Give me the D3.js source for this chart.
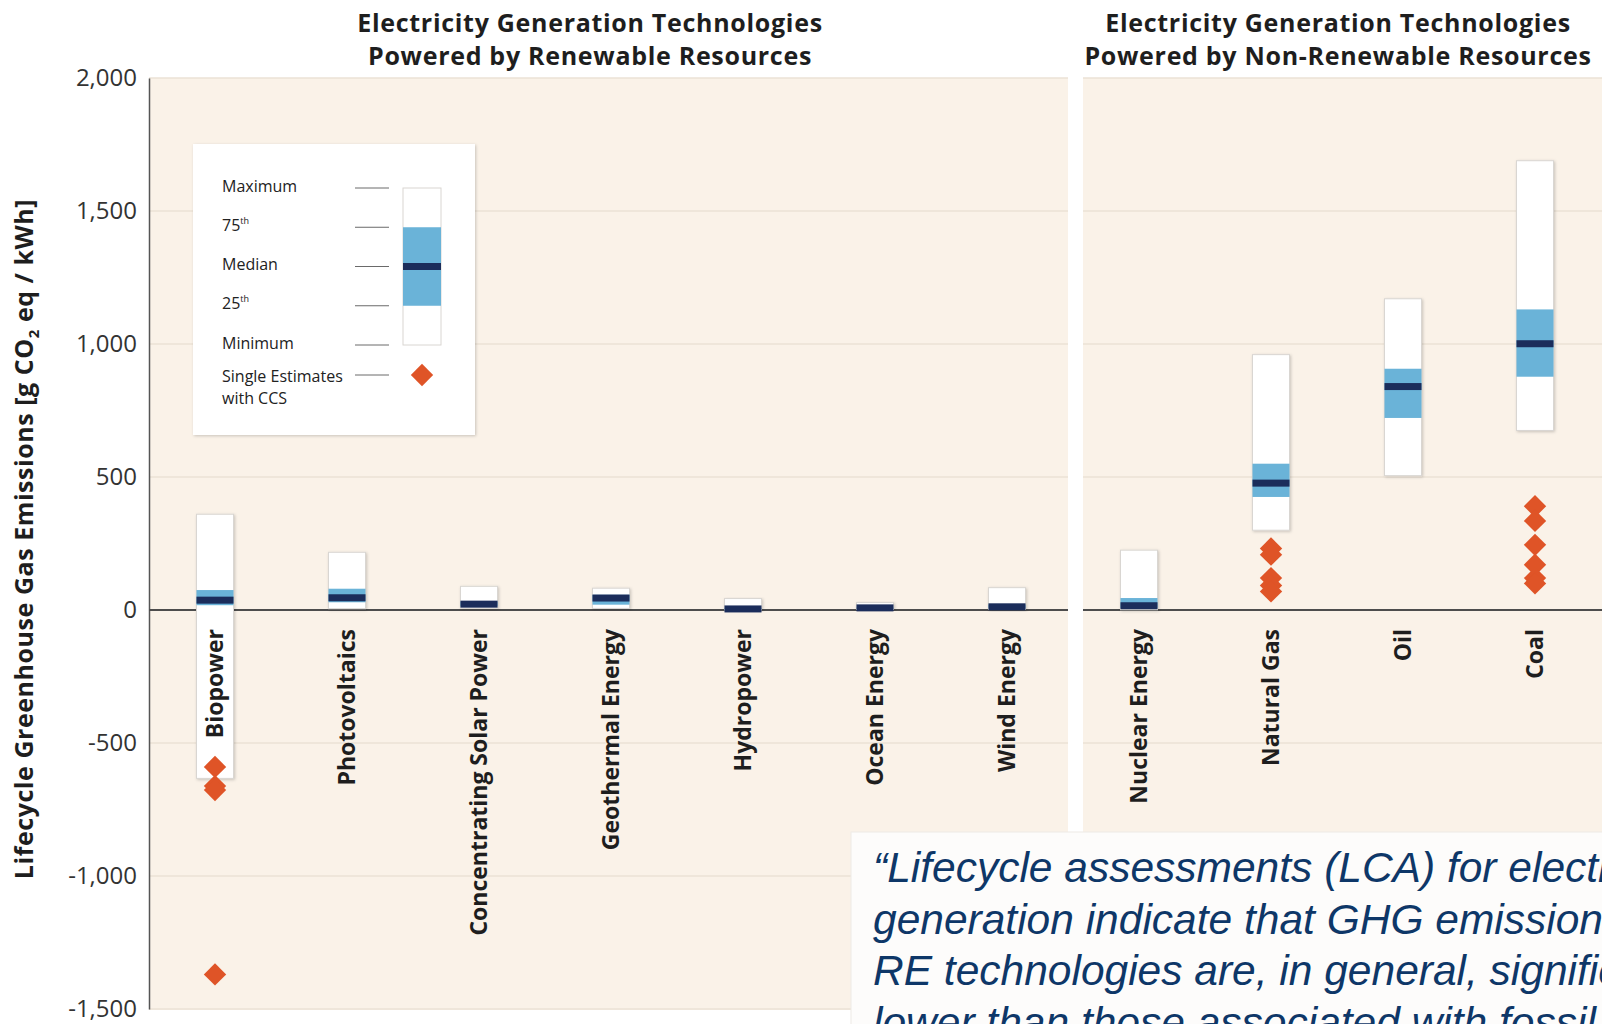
<!DOCTYPE html>
<html>
<head>
<meta charset="utf-8">
<script src="https://cdn.jsdelivr.net/npm/d3@7"></script>
<style>
  html, body { margin: 0; padding: 0; background: #ffffff; overflow: hidden; }
  svg { display: block; }
</style>
</head>
<body>
<svg id="chart" width="1602" height="1024"></svg>
<script>
// ---- Data: lifecycle GHG emissions, g CO2 eq / kWh ----
const categories = [
  "Biopower", "Photovoltaics", "Concentrating Solar Power", "Geothermal Energy",
  "Hydropower", "Ocean Energy", "Wind Energy",
  "Nuclear Energy", "Natural Gas", "Oil", "Coal"
];
const renewableCount = 7;            // first 7 categories are renewable
const minimum      = [-633,   5,  7,  6,  0,  2,  2,   1, 300,  505,  675];
const percentile25 = [  18,  29, 14, 20,  3,  6,  8,   8, 425,  722,  877];
const median       = [  37,  46, 22, 45,  4,  8, 12,  16, 477,  840, 1001];
const percentile75 = [  75,  80, 32, 57,  7,  9, 20,  45, 550,  907, 1130];
const maximum      = [ 360, 217, 89, 82, 43, 28, 84, 225, 960, 1170, 1689];

// Single estimates with CCS
const ccsCategory = ["Biopower", "Biopower", "Biopower", "Biopower",
                     "Natural Gas", "Natural Gas", "Natural Gas", "Natural Gas", "Natural Gas",
                     "Coal", "Coal", "Coal", "Coal", "Coal", "Coal"];
const ccsValue    = [-590, -662, -677, -1370,
                     231, 208, 120, 92, 70,
                     390, 335, 245, 170, 120, 100];

const yTicks = [2000, 1500, 1000, 500, 0, -500, -1000, -1500];
const panelTitleLine1 = ["Electricity Generation Technologies", "Electricity Generation Technologies"];
const panelTitleLine2 = ["Powered by Renewable Resources", "Powered by Non-Renewable Resources"];
const legendLabels = ["Minimum", "25", "Median", "75", "Maximum"];
const quoteLines = [
  "\u201cLifecycle assessments (LCA) for electricity",
  "generation indicate that GHG emissions from",
  "RE technologies are, in general, significantly",
  "lower than those associated with fossil fuel options\u201d"
];

// ---- Styling ----
const C = {
  panel: "#faf2e8",
  grid: "#ebe2d6",
  zero: "#4d4d4d",
  axis: "#555555",
  box: "#ffffff",
  boxStroke: "#d9d6d2",
  iqr: "#6ab3d8",
  med: "#1b2d5b",
  ccs: "#df5427",
  text: "#1e1e1e",
  tick: "#333333",
  quote: "#0e3768"
};
const FONT = "'Open Sans', 'Noto Sans', sans-serif";

const svg = d3.select("#chart");
const W = 1602, H = 1024;

const x = d3.scalePoint().domain(categories).range([149, 1601]).padding(0.5);
const y = d3.scaleLinear().domain([-1500, 2000]).range([1009, 78]);
const barW = 37;
const step = x.step();

// drop shadow used by boxes and legend
const defs = svg.append("defs");
const f = defs.append("filter").attr("id", "shadow")
  .attr("x", "-30%").attr("y", "-10%").attr("width", "160%").attr("height", "120%");
f.append("feDropShadow").attr("dx", 1).attr("dy", 1).attr("stdDeviation", 1.6)
  .attr("flood-color", "#000").attr("flood-opacity", 0.2);

// ---- Panels ----
const boundary = x(categories[renewableCount - 1]) + step / 2;
const panels = [
  { x0: x.range()[0], x1: boundary - 5 },
  { x0: boundary + 10, x1: W }
];
const plotTop = y(2000), plotBottom = y(-1500) + 1;

panels.forEach((p, i) => {
  const g = svg.append("g");
  g.append("rect").attr("x", p.x0).attr("y", plotTop).attr("width", p.x1 - p.x0)
    .attr("height", plotBottom - plotTop).attr("fill", C.panel);
  g.selectAll("line.grid").data(yTicks.filter(t => t !== 0)).join("line")
    .attr("class", "grid")
    .attr("x1", p.x0).attr("x2", p.x1)
    .attr("y1", d => y(d)).attr("y2", d => y(d))
    .attr("stroke", C.grid).attr("stroke-width", 1.3);
});

// ---- Panel titles ----
const titleX = [590, 1338];
panels.forEach((p, i) => {
  const t = svg.append("text").attr("text-anchor", "middle")
    .attr("font-family", FONT).attr("font-weight", 700).attr("font-size", 25)
    .attr("letter-spacing", 0.7).attr("fill", C.text);
  t.append("tspan").attr("x", titleX[i]).attr("y", 32).text(panelTitleLine1[i]);
  t.append("tspan").attr("x", titleX[i]).attr("y", 65).text(panelTitleLine2[i]);
});

// ---- Y axis ----
const fmt = d3.format(",");
const yAxis = svg.append("g").attr("transform", `translate(${x.range()[0]},0)`)
  .call(d3.axisLeft(y).tickValues(yTicks).tickSize(0).tickPadding(12)
    .tickFormat(d => fmt(d).replace("\u2212", "-")));
yAxis.select(".domain").attr("stroke", C.axis).attr("stroke-width", 1.5);
yAxis.selectAll(".tick text").attr("font-family", FONT).attr("font-size", 24)
  .attr("fill", C.tick);

const yTitle = svg.append("text")
  .attr("transform", "translate(33,539) rotate(-90)")
  .attr("text-anchor", "middle")
  .attr("font-family", FONT).attr("font-weight", 700).attr("font-size", 25)
  .attr("letter-spacing", 0.55).attr("fill", C.text);
yTitle.append("tspan").text("Lifecycle Greenhouse Gas Emissions [g CO");
yTitle.append("tspan").attr("font-size", 15).attr("dy", 6).text("2");
yTitle.append("tspan").attr("dy", -6).text(" eq / kWh]");

// ---- Zero lines ----
panels.forEach(p => {
  svg.append("line").attr("x1", p.x0).attr("x2", p.x1)
    .attr("y1", y(0)).attr("y2", y(0))
    .attr("stroke", C.zero).attr("stroke-width", 2);
});

// ---- Boxes ----
const rows = categories.map((c, i) => ({
  c, min: minimum[i], q25: percentile25[i], med: median[i], q75: percentile75[i], max: maximum[i]
}));
const boxes = svg.append("g").selectAll("g").data(rows).join("g");
boxes.append("rect")
  .attr("x", d => x(d.c) - barW / 2).attr("width", barW)
  .attr("y", d => y(d.max)).attr("height", d => y(d.min) - y(d.max))
  .attr("fill", C.box).attr("stroke", C.boxStroke).attr("stroke-width", 1)
  .attr("filter", "url(#shadow)");
boxes.append("rect")
  .attr("x", d => x(d.c) - barW / 2).attr("width", barW)
  .attr("y", d => y(d.q75)).attr("height", d => y(d.q25) - y(d.q75))
  .attr("fill", C.iqr);
boxes.append("rect")
  .attr("x", d => x(d.c) - barW / 2).attr("width", barW)
  .attr("y", d => y(d.med) - 3.5).attr("height", 7)
  .attr("fill", C.med);

// ---- Category labels ----
svg.append("g").selectAll("text").data(categories).join("text")
  .attr("transform", d => `translate(${x(d)},629) rotate(-90)`)
  .attr("text-anchor", "end").attr("dy", "0.36em")
  .attr("font-family", FONT).attr("font-weight", 700).attr("font-size", 23)
  .attr("fill", C.text)
  .text(d => d);

// ---- CCS single estimates ----
const diamond = d3.symbol().type(d3.symbolSquare).size(250);
svg.append("g").selectAll("path").data(ccsValue.map((v, i) => ({ c: ccsCategory[i], v })))
  .join("path")
  .attr("d", diamond)
  .attr("transform", d => `translate(${x(d.c)},${y(d.v)}) rotate(45)`)
  .attr("fill", C.ccs);

// ---- Legend ----
const lg = svg.append("g");
lg.append("rect").attr("x", 193).attr("y", 144).attr("width", 282).attr("height", 291)
  .attr("fill", "#ffffff").attr("filter", "url(#shadow)");
const ly = d3.scaleLinear().domain([0, 4]).range([345, 188]);
const lgBarX = 403, lgBarW = 38;
lg.append("rect").attr("x", lgBarX).attr("width", lgBarW)
  .attr("y", ly(4)).attr("height", ly(0) - ly(4))
  .attr("fill", "#fff").attr("stroke", C.boxStroke);
lg.append("rect").attr("x", lgBarX).attr("width", lgBarW)
  .attr("y", ly(3)).attr("height", ly(1) - ly(3)).attr("fill", C.iqr);
lg.append("rect").attr("x", lgBarX).attr("width", lgBarW)
  .attr("y", ly(2) - 3.5).attr("height", 7).attr("fill", C.med);
legendLabels.forEach((lab, i) => {
  const yy = ly(i);
  lg.append("line").attr("x1", 355).attr("x2", 389).attr("y1", yy).attr("y2", yy)
    .attr("stroke", "#6a6a6a").attr("stroke-width", 1);
  const t = lg.append("text").attr("x", 222).attr("y", yy - 2).attr("dy", "0.35em")
    .attr("font-family", FONT).attr("font-size", 16).attr("font-weight", 500)
    .attr("fill", "#222");
  if (lab === "25" || lab === "75") {
    t.append("tspan").text(lab);
    t.append("tspan").attr("font-size", 9).attr("dy", -7).text("th");
  } else {
    t.text(lab);
  }
});
const ccsY = 375;
lg.append("line").attr("x1", 355).attr("x2", 389).attr("y1", ccsY).attr("y2", ccsY)
  .attr("stroke", "#6a6a6a").attr("stroke-width", 1);
lg.append("path").attr("d", diamond)
  .attr("transform", `translate(${lgBarX + lgBarW / 2},${ccsY}) rotate(45)`)
  .attr("fill", C.ccs);
const ccsText = lg.append("text").attr("font-family", FONT).attr("font-size", 16)
  .attr("font-weight", 500).attr("fill", "#222");
ccsText.append("tspan").attr("x", 222).attr("y", 382).text("Single Estimates");
ccsText.append("tspan").attr("x", 222).attr("y", 404).text("with CCS");

// ---- Quote box ----
svg.append("rect").attr("x", 851).attr("y", 832).attr("width", 800).attr("height", 220)
  .attr("fill", "#fdfcfb").attr("stroke", "#eeeae6").attr("stroke-width", 1);
svg.append("g").selectAll("text").data(quoteLines).join("text")
  .attr("x", 873).attr("y", (d, i) => 882 + i * 51.5)
  .attr("font-family", "'Liberation Sans', Arial, sans-serif")
  .attr("font-style", "italic").attr("font-size", 42.5)
  .attr("fill", C.quote)
  .text(d => d);
</script>
</body>
</html>
